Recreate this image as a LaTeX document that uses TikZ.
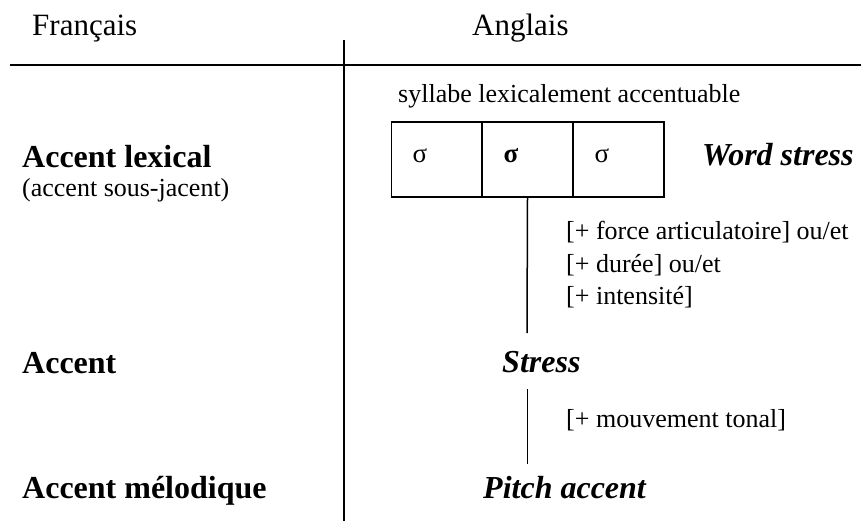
\documentclass[tikz,border=0pt]{standalone}
\usepackage{fontspec}
\setmainfont{Liberation Serif}
\begin{document}
\begin{tikzpicture}[x=1pt,y=-1pt,
  txt/.style={inner sep=0pt,anchor=base west,font=\fontsize{26}{30}\selectfont},
  head/.style={inner sep=0pt,anchor=base west,font=\fontsize{31}{36}\selectfont},
  bold/.style={inner sep=0pt,anchor=base west,font=\fontsize{32}{36}\selectfont\bfseries},
  bit/.style={inner sep=0pt,anchor=base west,font=\fontsize{32}{36}\selectfont\bfseries\itshape},
  sig/.style={inner sep=0pt,anchor=base,font=\fontsize{27}{30}\selectfont},
  cell/.style={draw,line width=1.5pt,minimum width=91pt,minimum height=75pt,inner sep=0pt},
  rule/.style={line width=2pt},
  conn/.style={line width=1.5pt}]
\useasboundingbox (0,0) rectangle (861,521);
% table rules
\coordinate (hl) at (10,65);
\coordinate (hr) at (861,65);
\coordinate (vt) at (344,40);
\coordinate (vb) at (344,521);
\draw[rule] (hl) -- (hr);
\draw[rule] (vt) -- (vb);
% headers
\node[head] (fr) at (32,36) {Français};
\node[head] (en) at (472,36) {Anglais};
% top
\node[txt] (syl) at (398,103) {syllabe lexicalement accentuable};
\node[cell] (c1) at (437,159.5) {};
\node[cell] (c2) at (527.5,159.5) {};
\node[cell] (c3) at (618.5,159.5) {};
\node[sig] (s1) at (420,163) {σ};
\node[sig] (s2) at (511,163) {\bfseries σ};
\node[sig] (s3) at (602,163) {σ};
\node[bit] (ws) at (702,166) {Word stress};
\node[bold] (al) at (22,168) {Accent lexical};
\node[txt] (asj) at (22,197) {(accent sous-jacent)};
% features 1
\coordinate (l1b) at (527,333);
\draw[conn] (c2.south) -- (l1b);
\node[txt] (f1) at (566,239.5) {[+ force articulatoire] ou/et};
\node[txt] (f2) at (566,272) {[+ durée] ou/et};
\node[txt] (f3) at (566,304) {[+ intensité]};
% stress
\node[bold] (acc) at (22,373) {Accent};
\node[bit] (st) at (502,372) {Stress};
\coordinate (l2t) at (527.5,389);
\coordinate (l2b) at (527.5,464);
\draw[conn] (l2t) -- (l2b);
\node[txt] (mt) at (566,427) {[+ mouvement tonal]};
% pitch
\node[bold] (am) at (22,498) {Accent mélodique};
\node[bit] (pa) at (483,498) {Pitch accent};
\end{tikzpicture}
\end{document}
